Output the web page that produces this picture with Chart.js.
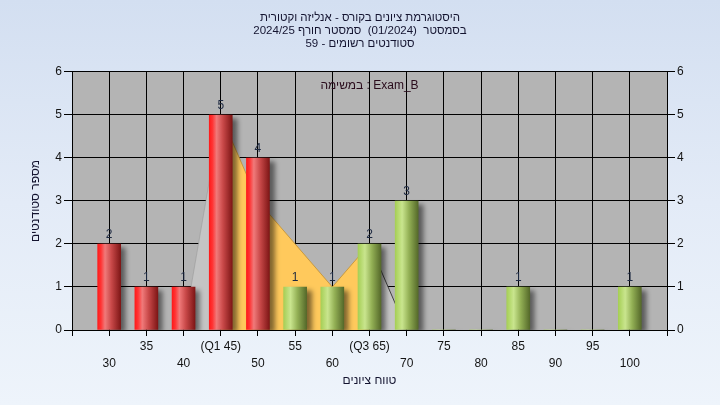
<!DOCTYPE html>
<html><head><meta charset="utf-8">
<script src="https://cdn.jsdelivr.net/npm/chart.js@4.4.1/dist/chart.umd.min.js"></script>
<style>
html,body{margin:0;padding:0;}
body{width:720px;height:405px;overflow:hidden;background:linear-gradient(to bottom,#d3dff1 0%,#e3ebf7 50%,#eef4fb 100%);}
canvas{display:block;}
</style></head><body>
<canvas id="c" width="720" height="405"></canvas>
<script>
// ---- data ----
const scores = [30,35,40,45,50,55,60,65,70,75,80,85,90,95,100];
const counts = [2,1,1,5,4,1,1,2,3,0,0,1,0,0,1];
const tickLabels = ['30','35','40','(Q1 45)','50','55','60','(Q3 65)','70','75','80','85','90','95','100'];
const curveX = [40,45,50,55,60,65,70];
const curveY = [0,5,3,2,1,2,0];
const q1 = 45, q3 = 65;
const passScore = 55;
const yTicks = [0,1,2,3,4,5,6];
const titleLines = [
  'היסטוגרמת ציונים בקורס - אנליזה וקטורית',
  'בסמסטר  (01/2024)  סמסטר חורף 2024/25',
  'סטודנטים רשומים - 59'
];
const xTitle = 'טווח ציונים';
const yTitle = 'מספר סטודנטים';
const legendText = 'במשימה : Exam_B';

// ---- helpers ----
const FONT = '"Liberation Sans", Arial, "DejaVu Sans", sans-serif';
const pts = (lo, hi) => curveX.map((x,i)=>({x, y: curveY[i]})).filter(p => p.x >= lo && p.x <= hi);

function makeGrad(ctx, px, s){
  const g = ctx.createLinearGradient(px - 11.5, 0, px + 11.5, 0);
  const stops = s < passScore
    ? [[0,'#ff1a1a'],[0.14,'#ff3434'],[0.32,'#f07a7a'],[0.6,'#c84848'],[1,'#7e1616']]
    : [[0,'#a6cf56'],[0.3,'#c9e58e'],[0.6,'#93b055'],[1,'#55692a']];
  stops.forEach(([o,col]) => g.addColorStop(o,col));
  return g;
}
function barFill(c){
  const sx = c.chart.scales && c.chart.scales.x;
  if (!sx || c.dataIndex === undefined) return '#d04040';
  const s = scores[c.dataIndex];
  const px = sx.getPixelForValue(s);
  if (!isFinite(px)) return s < passScore ? '#d04040' : '#a0c060';
  return makeGrad(c.chart.ctx, px, s);
}

const plotBg = {
  id:'plotBg',
  beforeDraw(chart){
    const {ctx, chartArea:a} = chart;
    ctx.save(); ctx.fillStyle = '#b4b4b4';
    ctx.fillRect(a.left, a.top, a.right - a.left, a.bottom - a.top);
    ctx.restore();
  }
};
const barShadow = {
  id:'barShadow',
  beforeDatasetDraw(chart, args){
    if (args.index !== 0) return;
    const ctx = chart.ctx;
    ctx.save();
    ctx.shadowColor = 'rgba(0,0,0,0.5)';
    ctx.shadowOffsetX = 5; ctx.shadowOffsetY = 3; ctx.shadowBlur = 5;
  },
  afterDatasetDraw(chart, args){
    if (args.index !== 0) return;
    chart.ctx.restore();
  }
};
const texts = {
  id:'texts',
  afterDatasetsDraw(chart){
    const {ctx, chartArea:a} = chart;
    const meta = chart.getDatasetMeta(0);
    ctx.save();
    ctx.font = '12px ' + FONT;
    ctx.textAlign = 'center'; ctx.textBaseline = 'alphabetic';
    ctx.fillStyle = '#1c2840';
    meta.data.forEach((el,i) => {
      if (counts[i] > 0) ctx.fillText(String(counts[i]), el.x, el.y - 6);
    });
    ctx.fillStyle = '#2a0c1c';
    ctx.textBaseline = 'middle';
    ctx.fillText(legendText, (a.left + a.right)/2, a.top + 14);
    ctx.restore();
  }
};

new Chart(document.getElementById('c'), {
  type:'bar',
  data:{
    datasets:[
      { type:'bar', label:'Exam_B', data: scores.map((s,i)=>({x:s, y:counts[i]})),
        backgroundColor: barFill, borderWidth:0, barThickness:23, order:0 },
      { type:'line', data: pts(-Infinity, q1), fill:'origin', backgroundColor:'#c4c4c4',
        borderColor:'rgba(150,150,150,0.5)', borderWidth:1, pointRadius:0, tension:0, order:1 },
      { type:'line', data: pts(q1, q3), fill:'origin', backgroundColor:'#ffc95c',
        borderColor:'#c89a40', borderWidth:1, pointRadius:0, tension:0, order:1 },
      { type:'line', data: pts(q3, Infinity), fill:'origin', backgroundColor:'#c4c4c4',
        borderColor:'#404040', borderWidth:1, pointRadius:0, tension:0, order:1 }
    ]
  },
  options:{
    responsive:false, animation:false, devicePixelRatio:1,
    layout:{padding:0},
    plugins:{
      legend:{display:false}, tooltip:{enabled:false},
      title:{display:true, text:titleLines, color:'#141430',
        font:{family:FONT, size:11.5, weight:'normal', lineHeight:1.15},
        padding:{top:11, bottom:21.3}}
    },
    scales:{
      x:{ type:'linear', position:'bottom', min:25, max:105, offset:false,
        afterFit(s){ s.height = 75; },
        ticks:{ stepSize:5, autoSkip:false, maxRotation:0, minRotation:0, padding:2,
          color:'#141414', font:{family:FONT, size:12, lineHeight:1.4},
          callback(v){ const i = scores.indexOf(v); if (i < 0) return '';
            return i % 2 === 0 ? ['', tickLabels[i]] : tickLabels[i]; } },
        grid:{ color:'#000', lineWidth:1, tickLength:6, offset:false },
        border:{ color:'#000', width:1 },
        title:{ display:true, text:xTitle, color:'#141430',
          font:{family:FONT, size:12, lineHeight:1.2}, padding:{top:0,bottom:17} } },
      y:{ position:'left', min:0, max:6,
        afterFit(s){ s.width = 72; },
        afterBuildTicks(s){ s.ticks = yTicks.map(v=>({value:v})); },
        ticks:{ padding:2, color:'#141414', font:{family:FONT, size:12} },
        grid:{ color:'#000', lineWidth:1, tickLength:8 },
        border:{ color:'#000', width:1 },
        title:{ display:true, text:yTitle, color:'#141430',
          font:{family:FONT, size:12, lineHeight:1.2}, padding:{top:28,bottom:0} } },
      y2:{ position:'right', min:0, max:6,
        afterFit(s){ s.width = 53; },
        afterBuildTicks(s){ s.ticks = yTicks.map(v=>({value:v})); },
        ticks:{ padding:2, color:'#141414', font:{family:FONT, size:12} },
        grid:{ drawOnChartArea:false, color:'#000', lineWidth:1, tickLength:8 },
        border:{ color:'#000', width:1 } }
    }
  },
  plugins:[plotBg, barShadow, texts]
});
</script>
</body></html>
